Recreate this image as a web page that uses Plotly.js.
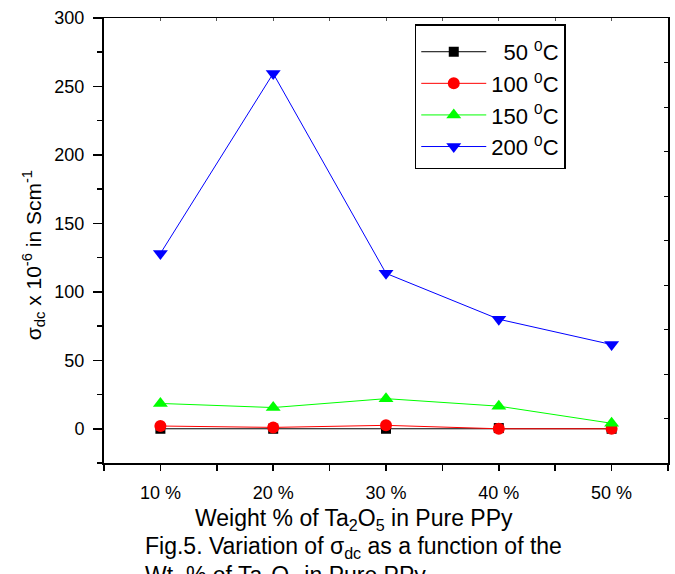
<!DOCTYPE html>
<html>
<head>
<meta charset="utf-8">
<script src="https://cdn.plot.ly/plotly-3.0.1.min.js"></script>
<style>html,body{margin:0;padding:0;background:#fff;}#chart{width:675px;height:574px;}</style>
</head>
<body>
<div id="chart"></div>
<script>
// Data
const xVals = [10, 20, 30, 40, 50];
const xLabels = ['10 %', '20 %', '30 %', '40 %', '50 %'];
const s50 = [0, 0, 0, 0.5, 0];
const s100 = [2, 1, 2.5, 0, 0];
const s150 = [18.5, 15.5, 22, 16.5, 4];
const s200 = [128, 259.5, 113.5, 80, 61.5];
const names = ['\u00a0\u00a050 <sup>0</sup>C', '100 <sup>0</sup>C', '150 <sup>0</sup>C', '200 <sup>0</sup>C'];
const colors = ['#000000', '#ff0000', '#00ff00', '#0000ff'];
const symbols = ['square', 'circle', 'triangle-up', 'triangle-down'];
const sizes = [10, 12, 13, 13];
const series = [s50, s100, s150, s200];

const FONT = 'Arial, "Liberation Sans", sans-serif';

const traces = series.map((s, i) => ({
  x: xVals, y: s, name: names[i], type: 'scatter', mode: 'lines+markers',
  line: {color: colors[i], width: 1},
  marker: {color: colors[i], symbol: symbols[i], size: sizes[i]}
}));
traces.push({x: [], y: [], xaxis: 'x2', yaxis: 'y2', showlegend: false, hoverinfo: 'skip', type: 'scatter'});

const layout = {
  width: 675, height: 574,
  margin: {l: 104, r: 7, t: 18, b: 111, pad: 0},
  paper_bgcolor: '#fff', plot_bgcolor: '#fff',
  font: {family: FONT, color: '#000', size: 18},
  showlegend: true,
  legend: {
    x: 0.551, y: 0.986, xanchor: 'left', yanchor: 'top',
    bordercolor: '#000', borderwidth: 1.5, bgcolor: '#fff',
    font: {family: FONT, size: 22, color: '#000'},
    title: {text: '\u00a0', font: {size: 4}},
    itemwidth: 65, tracegroupgap: 0
  },
  xaxis: {
    range: [5, 55], tickmode: 'array', tickvals: xVals, ticktext: xLabels,
    ticks: 'outside', ticklen: 6, tickwidth: 1.5, tickcolor: '#000',
    minor: {tickmode: 'linear', tick0: 5, dtick: 5, ticks: 'outside', ticklen: 6, tickwidth: 1.5, tickcolor: '#000'},
    showline: true, linewidth: 2, linecolor: '#000',
    showgrid: false, zeroline: false, ticklabelstandoff: 6,
    tickfont: {family: FONT, size: 18}
  },
  yaxis: {
    range: [-25, 300], tickmode: 'linear', tick0: 0, dtick: 50,
    ticks: 'outside', ticklen: 9, tickwidth: 1.5, tickcolor: '#000',
    minor: {tickmode: 'linear', tick0: 25, dtick: 50, ticks: 'outside', ticklen: 5, tickwidth: 1.5, tickcolor: '#000'},
    showline: true, linewidth: 2, linecolor: '#000',
    showgrid: false, zeroline: false, ticklabelstandoff: 5,
    tickfont: {family: FONT, size: 18}
  },
  xaxis2: {
    overlaying: 'x', side: 'top', anchor: 'y2', range: [5, 55], tickmode: 'linear', tick0: 5, dtick: 5,
    ticks: 'inside', ticklen: 3, tickwidth: 1, tickcolor: '#555',
    showticklabels: false, showline: true, linewidth: 1.5, linecolor: '#000',
    showgrid: false, zeroline: false
  },
  yaxis2: {
    overlaying: 'y', side: 'right', anchor: 'x2', range: [0, 10], tickmode: 'linear', tick0: 0, dtick: 1,
    ticks: 'inside', ticklen: 4, tickwidth: 1, tickcolor: '#000',
    showticklabels: false, showline: true, linewidth: 2, linecolor: '#000',
    showgrid: false, zeroline: false
  },
  annotations: [
    {text: 'Weight % of Ta<sub>2</sub>O<sub>5</sub> in Pure PPy', xref: 'paper', yref: 'paper',
     x: 0.443, y: -0.128, xanchor: 'center', yanchor: 'middle', showarrow: false,
     font: {family: FONT, size: 23, color: '#000'}},
    {text: 'Fig.5. Variation of σ<sub>dc</sub> as a function of the', xref: 'paper', yref: 'paper',
     x: 0.069, y: -0.191, xanchor: 'left', yanchor: 'middle', showarrow: false,
     font: {family: FONT, size: 23, color: '#000'}},
    {text: 'Wt. % of Ta<sub>2</sub>O<sub>5</sub> in Pure PPy', xref: 'paper', yref: 'paper',
     x: 0.069, y: -0.256, xanchor: 'left', yanchor: 'middle', showarrow: false,
     font: {family: FONT, size: 23, color: '#000'}},
    {text: 'σ<sub>dc</sub> x 10<sup>-6</sup> in Scm<sup>-1</sup>', xref: 'paper', yref: 'paper',
     x: -0.1259, y: 0.467, xanchor: 'center', yanchor: 'middle', textangle: -90, showarrow: false,
     font: {family: FONT, size: 21, color: '#000'}}
  ]
};

Plotly.newPlot('chart', traces, layout, {displayModeBar: false, staticPlot: true});
</script>
</body>
</html>
